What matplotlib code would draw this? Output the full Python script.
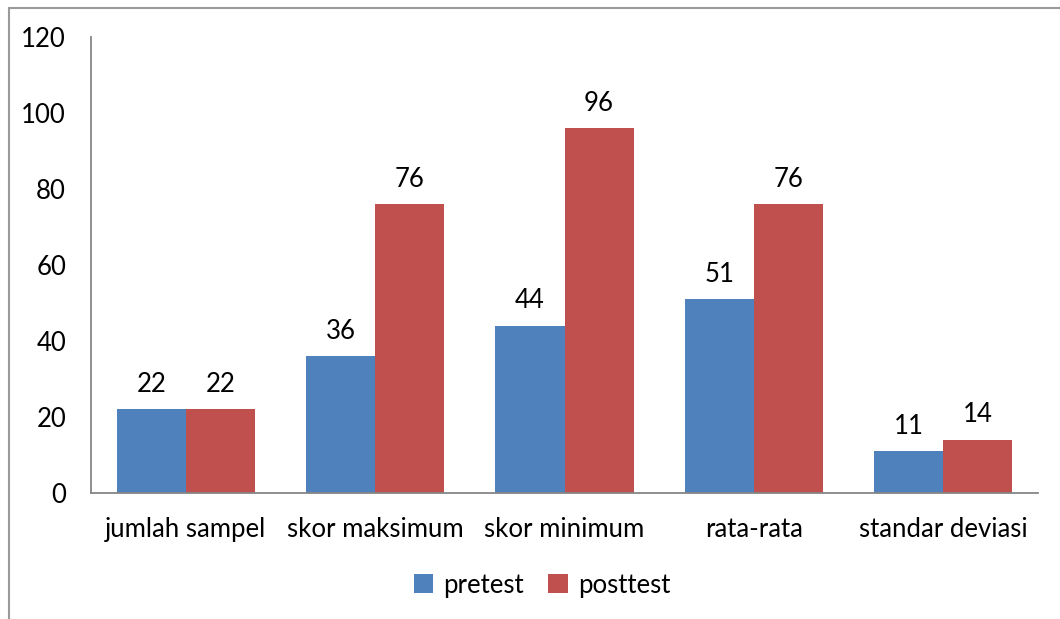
import matplotlib
matplotlib.use("Agg")
import matplotlib.pyplot as plt
from matplotlib.patches import Rectangle
import numpy as np

categories = ["jumlah sampel", "skor maksimum", "skor minimum", "rata-rata", "standar deviasi"]
pretest = [22, 36, 44, 51, 11]
posttest = [22, 76, 96, 76, 14]
series_names = ["pretest", "posttest"]
yticks = [0, 20, 40, 60, 80, 100, 120]

plt.rcParams["font.family"] = ["Lato", "DejaVu Sans"]
BLUE = "#4F81BD"
RED = "#C0504D"
AXIS = "#868686"
FS = 18.5

W, H = 1060, 619
fig = plt.figure(figsize=(W / 100, H / 100), dpi=100)

# chart-area border (left and top edges visible)
fig.patches.append(Rectangle((8.5 / W, -0.1), 1.2, 1.1 - 7.5 / H, transform=fig.transFigure,
                             fill=False, edgecolor="#9a9a9a", linewidth=1.5))

left, right = 91 / W, 1038 / W
bottom, top = 1 - 493 / H, 1 - 37 / H
ax = fig.add_axes([left, bottom, right - left, top - bottom])

x = np.arange(len(categories))
bw = 0.365
b1 = ax.bar(x - bw / 2, pretest, bw, color=BLUE, label=series_names[0])
b2 = ax.bar(x + bw / 2, posttest, bw, color=RED, label=series_names[1])

for bars, vals in ((b1, pretest), (b2, posttest)):
    for r, v in zip(bars, vals):
        ax.annotate(f"{v}", (r.get_x() + r.get_width() / 2, v), xytext=(0, 9),
                    textcoords="offset points", ha="center", va="bottom", fontsize=FS)

ax.set_xlim(-0.5, len(categories) - 0.5)
ax.set_ylim(0, 120)
ax.set_yticks(yticks)
ax.set_xticks(x)
ax.set_xticklabels(categories, fontsize=FS)
ax.tick_params(axis="both", length=0, labelsize=FS)
ax.tick_params(axis="y", pad=18)
ax.tick_params(axis="x", pad=17)
for s in ("top", "right"):
    ax.spines[s].set_visible(False)
for s in ("left", "bottom"):
    ax.spines[s].set_color(AXIS)
    ax.spines[s].set_linewidth(1.3)

fig.legend(handles=[b1, b2], labels=series_names, loc="center", bbox_to_anchor=(542 / W, 1 - 585 / H),
           ncol=2, frameon=False, fontsize=FS, handlelength=0.75, handleheight=0.75,
           handletextpad=0.4, columnspacing=0.95)

fig.savefig("out.png", dpi=100)
